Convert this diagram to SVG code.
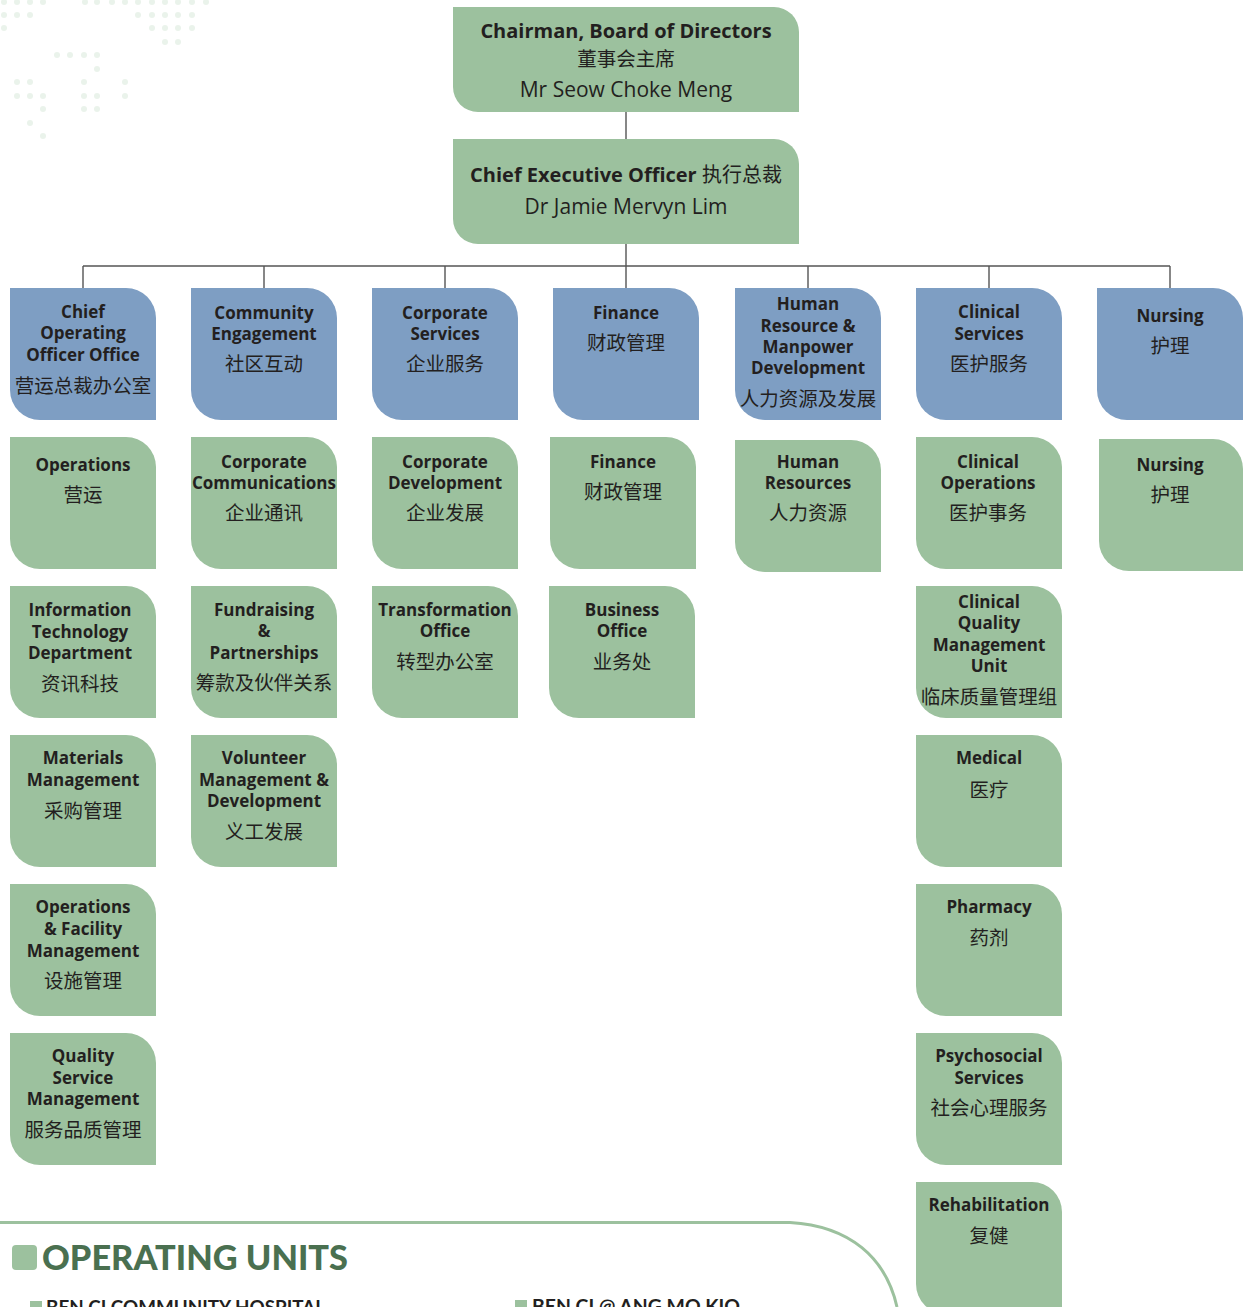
<svg xmlns="http://www.w3.org/2000/svg" width="1243" height="1307" viewBox="0 0 1243 1307">
<style>
.blue{fill:#7e9ec3}
.green{fill:#9cc19e}
.t{font-family:"Open Sans","Noto Sans CJK SC",sans-serif;font-weight:700;font-size:17px;fill:#231f20;text-anchor:middle}
.c{font-family:"Noto Sans CJK SC",sans-serif;font-weight:400;font-size:19.5px;fill:#231f20;text-anchor:middle}
.r{font-family:"Open Sans","Noto Sans CJK SC",sans-serif;font-weight:400;font-size:21px;fill:#231f20;text-anchor:middle}
.h{font-family:"Open Sans","Noto Sans CJK SC",sans-serif;font-weight:700;font-size:20px;fill:#231f20;text-anchor:middle}
.ln{stroke:#555;stroke-width:1.4;fill:none}
.dot{fill:#dcebdd;opacity:0.6}
</style>
<rect width="1243" height="1307" fill="#ffffff"/>
<g id="decor-dots">
<circle class="dot" cx="4" cy="2" r="3"/><circle class="dot" cx="17" cy="2" r="3"/><circle class="dot" cx="30" cy="2" r="3"/><circle class="dot" cx="43" cy="2" r="3"/>
<circle class="dot" cx="85" cy="2" r="3"/><circle class="dot" cx="97" cy="2" r="3"/><circle class="dot" cx="112" cy="2" r="3"/><circle class="dot" cx="125" cy="2" r="3"/><circle class="dot" cx="138" cy="2" r="3"/><circle class="dot" cx="152" cy="2" r="3"/><circle class="dot" cx="165" cy="2" r="3"/><circle class="dot" cx="178" cy="2" r="3"/><circle class="dot" cx="192" cy="2" r="3"/><circle class="dot" cx="206" cy="2" r="3"/>
<circle class="dot" cx="4" cy="15" r="3"/><circle class="dot" cx="17" cy="15" r="3"/><circle class="dot" cx="30" cy="15" r="3"/><circle class="dot" cx="138" cy="15" r="3"/><circle class="dot" cx="152" cy="15" r="3"/><circle class="dot" cx="165" cy="15" r="3"/><circle class="dot" cx="178" cy="15" r="3"/><circle class="dot" cx="192" cy="15" r="3"/>
<circle class="dot" cx="4" cy="28" r="3"/><circle class="dot" cx="152" cy="28" r="3"/><circle class="dot" cx="165" cy="28" r="3"/><circle class="dot" cx="178" cy="28" r="3"/><circle class="dot" cx="192" cy="28" r="3"/>
<circle class="dot" cx="165" cy="42" r="3"/><circle class="dot" cx="178" cy="42" r="3"/>
<circle class="dot" cx="57" cy="55" r="3"/><circle class="dot" cx="70" cy="55" r="3"/><circle class="dot" cx="84" cy="55" r="3"/><circle class="dot" cx="97" cy="55" r="3"/><circle class="dot" cx="97" cy="69" r="3"/>
<circle class="dot" cx="17" cy="82" r="3"/><circle class="dot" cx="30" cy="82" r="3"/><circle class="dot" cx="84" cy="82" r="3"/><circle class="dot" cx="125" cy="82" r="3"/>
<circle class="dot" cx="17" cy="96" r="3"/><circle class="dot" cx="30" cy="96" r="3"/><circle class="dot" cx="43" cy="96" r="3"/><circle class="dot" cx="84" cy="96" r="3"/><circle class="dot" cx="97" cy="96" r="3"/><circle class="dot" cx="125" cy="96" r="3"/>
<circle class="dot" cx="43" cy="109" r="3"/><circle class="dot" cx="84" cy="109" r="3"/><circle class="dot" cx="97" cy="109" r="3"/><circle class="dot" cx="30" cy="123" r="3"/><circle class="dot" cx="43" cy="136" r="3"/>
</g>
<g id="connectors">
<path class="ln" d="M626,112 V139 M626,244 V266 M83,266 H1170 M83,266 V288 M264,266 V288 M445,266 V288 M626,266 V288 M808,266 V288 M989,266 V288 M1170,266 V288"/>
</g>
<g id="chairman">
<path class="green" d="M453,7 H774 A25,25 0 0 1 799,32 V112 H478 A25,25 0 0 1 453,87 Z"/>
<text class="h" x="626" y="38">Chairman, Board of Directors</text>
<text class="c" x="626" y="66">董事会主席</text>
<text class="r" x="626" y="97">Mr Seow Choke Meng</text>
</g>
<g id="ceo">
<path class="green" d="M453,139 H774 A25,25 0 0 1 799,164 V244 H478 A25,25 0 0 1 453,219 Z"/>
<text class="h" x="626" y="182">Chief Executive Officer <tspan font-family="Noto Sans CJK SC,sans-serif" font-weight="400" font-size="20">执行总裁</tspan></text>
<text class="r" x="626" y="214">Dr Jamie Mervyn Lim</text>
</g>
<g id="coo-office">
<path class="blue" d="M10,288 H126 A30,30 0 0 1 156,318 V420 H40 A30,30 0 0 1 10,390 Z"/>
<text class="t" x="83" y="318">Chief</text><text class="t" x="83" y="339">Operating</text><text class="t" x="83" y="361">Officer Office</text>
<text class="c" x="83" y="393">营运总裁办公室</text>
</g>
<g id="community-engagement">
<path class="blue" d="M191,288 H307 A30,30 0 0 1 337,318 V420 H221 A30,30 0 0 1 191,390 Z"/>
<text class="t" x="264" y="319">Community</text><text class="t" x="264" y="340">Engagement</text>
<text class="c" x="264" y="371">社区互动</text>
</g>
<g id="corporate-services">
<path class="blue" d="M372,288 H488 A30,30 0 0 1 518,318 V420 H402 A30,30 0 0 1 372,390 Z"/>
<text class="t" x="445" y="319">Corporate</text><text class="t" x="445" y="340">Services</text>
<text class="c" x="445" y="371">企业服务</text>
</g>
<g id="finance-top">
<path class="blue" d="M553,288 H669 A30,30 0 0 1 699,318 V420 H583 A30,30 0 0 1 553,390 Z"/>
<text class="t" x="626" y="319">Finance</text>
<text class="c" x="626" y="350">财政管理</text>
</g>
<g id="hr-manpower">
<path class="blue" d="M735,288 H851 A30,30 0 0 1 881,318 V420 H765 A30,30 0 0 1 735,390 Z"/>
<text class="t" x="808" y="310">Human</text><text class="t" x="808" y="332">Resource &amp;</text><text class="t" x="808" y="353">Manpower</text><text class="t" x="808" y="374">Development</text>
<text class="c" x="808" y="406">人力资源及发展</text>
</g>
<g id="clinical-services">
<path class="blue" d="M916,288 H1032 A30,30 0 0 1 1062,318 V420 H946 A30,30 0 0 1 916,390 Z"/>
<text class="t" x="989" y="318">Clinical</text><text class="t" x="989" y="340">Services</text>
<text class="c" x="989" y="371">医护服务</text>
</g>
<g id="nursing-top">
<path class="blue" d="M1097,288 H1213 A30,30 0 0 1 1243,318 V420 H1127 A30,30 0 0 1 1097,390 Z"/>
<text class="t" x="1170" y="322">Nursing</text>
<text class="c" x="1170" y="353">护理</text>
</g>
<g id="operations">
<path class="green" d="M10,437 H126 A30,30 0 0 1 156,467 V569 H40 A30,30 0 0 1 10,539 Z"/>
<text class="t" x="83" y="471">Operations</text>
<text class="c" x="83" y="502">营运</text>
</g>
<g id="corporate-communications">
<path class="green" d="M191,437 H307 A30,30 0 0 1 337,467 V569 H221 A30,30 0 0 1 191,539 Z"/>
<text class="t" x="264" y="468">Corporate</text><text class="t" x="264" y="489">Communications</text>
<text class="c" x="264" y="520">企业通讯</text>
</g>
<g id="corporate-development">
<path class="green" d="M372,437 H488 A30,30 0 0 1 518,467 V569 H402 A30,30 0 0 1 372,539 Z"/>
<text class="t" x="445" y="468">Corporate</text><text class="t" x="445" y="489">Development</text>
<text class="c" x="445" y="520">企业发展</text>
</g>
<g id="finance">
<path class="green" d="M550,437 H666 A30,30 0 0 1 696,467 V569 H580 A30,30 0 0 1 550,539 Z"/>
<text class="t" x="623" y="468">Finance</text>
<text class="c" x="623" y="499">财政管理</text>
</g>
<g id="human-resources">
<path class="green" d="M735,440 H851 A30,30 0 0 1 881,470 V572 H765 A30,30 0 0 1 735,542 Z"/>
<text class="t" x="808" y="468">Human</text><text class="t" x="808" y="489">Resources</text>
<text class="c" x="808" y="520">人力资源</text>
</g>
<g id="clinical-operations">
<path class="green" d="M916,437 H1032 A30,30 0 0 1 1062,467 V569 H946 A30,30 0 0 1 916,539 Z"/>
<text class="t" x="988" y="468">Clinical</text><text class="t" x="988" y="489">Operations</text>
<text class="c" x="988" y="520">医护事务</text>
</g>
<g id="nursing">
<path class="green" d="M1099,439 H1213 A30,30 0 0 1 1243,469 V571 H1129 A30,30 0 0 1 1099,541 Z"/>
<text class="t" x="1170" y="471">Nursing</text>
<text class="c" x="1170" y="502">护理</text>
</g>
<g id="information-technology">
<path class="green" d="M10,586 H126 A30,30 0 0 1 156,616 V718 H40 A30,30 0 0 1 10,688 Z"/>
<text class="t" x="80" y="616">Information</text><text class="t" x="80" y="638">Technology</text><text class="t" x="80" y="659">Department</text>
<text class="c" x="80" y="691">资讯科技</text>
</g>
<g id="fundraising-partnerships">
<path class="green" d="M191,586 H307 A30,30 0 0 1 337,616 V718 H221 A30,30 0 0 1 191,688 Z"/>
<text class="t" x="264" y="616">Fundraising</text><text class="t" x="264" y="637">&amp;</text><text class="t" x="264" y="659">Partnerships</text>
<text class="c" x="264" y="690">筹款及伙伴关系</text>
</g>
<g id="transformation-office">
<path class="green" d="M372,586 H488 A30,30 0 0 1 518,616 V718 H402 A30,30 0 0 1 372,688 Z"/>
<text class="t" x="445" y="616">Transformation</text><text class="t" x="445" y="637">Office</text>
<text class="c" x="445" y="669">转型办公室</text>
</g>
<g id="business-office">
<path class="green" d="M549,586 H665 A30,30 0 0 1 695,616 V718 H579 A30,30 0 0 1 549,688 Z"/>
<text class="t" x="622" y="616">Business</text><text class="t" x="622" y="637">Office</text>
<text class="c" x="622" y="669">业务处</text>
</g>
<g id="clinical-quality-management-unit">
<path class="green" d="M916,586 H1032 A30,30 0 0 1 1062,616 V718 H946 A30,30 0 0 1 916,688 Z"/>
<text class="t" x="989" y="608">Clinical</text><text class="t" x="989" y="629">Quality</text><text class="t" x="989" y="651">Management</text><text class="t" x="989" y="672">Unit</text>
<text class="c" x="989" y="704">临床质量管理组</text>
</g>
<g id="materials-management">
<path class="green" d="M10,735 H126 A30,30 0 0 1 156,765 V867 H40 A30,30 0 0 1 10,837 Z"/>
<text class="t" x="83" y="764">Materials</text><text class="t" x="83" y="786">Management</text>
<text class="c" x="83" y="818">采购管理</text>
</g>
<g id="volunteer-management">
<path class="green" d="M191,735 H307 A30,30 0 0 1 337,765 V867 H221 A30,30 0 0 1 191,837 Z"/>
<text class="t" x="264" y="764">Volunteer</text><text class="t" x="264" y="786">Management &amp;</text><text class="t" x="264" y="807">Development</text>
<text class="c" x="264" y="839">义工发展</text>
</g>
<g id="medical">
<path class="green" d="M916,735 H1032 A30,30 0 0 1 1062,765 V867 H946 A30,30 0 0 1 916,837 Z"/>
<text class="t" x="989" y="764">Medical</text>
<text class="c" x="989" y="797">医疗</text>
</g>
<g id="operations-facility">
<path class="green" d="M10,884 H126 A30,30 0 0 1 156,914 V1016 H40 A30,30 0 0 1 10,986 Z"/>
<text class="t" x="83" y="913">Operations</text><text class="t" x="83" y="935">&amp; Facility</text><text class="t" x="83" y="957">Management</text>
<text class="c" x="83" y="988">设施管理</text>
</g>
<g id="pharmacy">
<path class="green" d="M916,884 H1032 A30,30 0 0 1 1062,914 V1016 H946 A30,30 0 0 1 916,986 Z"/>
<text class="t" x="989" y="913">Pharmacy</text>
<text class="c" x="989" y="945">药剂</text>
</g>
<g id="quality-service-management">
<path class="green" d="M10,1033 H126 A30,30 0 0 1 156,1063 V1165 H40 A30,30 0 0 1 10,1135 Z"/>
<text class="t" x="83" y="1062">Quality</text><text class="t" x="83" y="1084">Service</text><text class="t" x="83" y="1105">Management</text>
<text class="c" x="83" y="1137">服务品质管理</text>
</g>
<g id="psychosocial-services">
<path class="green" d="M916,1033 H1032 A30,30 0 0 1 1062,1063 V1165 H946 A30,30 0 0 1 916,1135 Z"/>
<text class="t" x="989" y="1062">Psychosocial</text><text class="t" x="989" y="1084">Services</text>
<text class="c" x="989" y="1115">社会心理服务</text>
</g>
<g id="rehabilitation">
<path class="green" d="M916,1182 H1032 A30,30 0 0 1 1062,1212 V1314 H946 A30,30 0 0 1 916,1284 Z"/>
<text class="t" x="989" y="1211">Rehabilitation</text>
<text class="c" x="989" y="1243">复健</text>
</g>
<g id="operating-units">
<path d="M0,1222.5 H790 C850,1226 886,1258 897,1307" fill="none" stroke="#9cc19e" stroke-width="3"/>
<rect x="12" y="1245" width="25" height="25" rx="4" fill="#9cc19e"/>
<text x="42" y="1270" font-family="Lato,sans-serif" font-weight="900" font-size="34" fill="#4a7050" textLength="306" lengthAdjust="spacingAndGlyphs">OPERATING UNITS</text>
<rect x="30" y="1301" width="12" height="12" fill="#9cc19e"/>
<text x="46" y="1314" font-family="Lato,sans-serif" font-weight="700" font-size="18" fill="#231f20" textLength="279" lengthAdjust="spacingAndGlyphs">BEN CI COMMUNITY HOSPITAL</text>
<rect x="515" y="1300" width="12" height="12" fill="#9cc19e"/>
<text x="532" y="1313" font-family="Lato,sans-serif" font-weight="700" font-size="18" fill="#231f20" textLength="208" lengthAdjust="spacingAndGlyphs">BEN CI @ ANG MO KIO</text>
</g>
</svg>
